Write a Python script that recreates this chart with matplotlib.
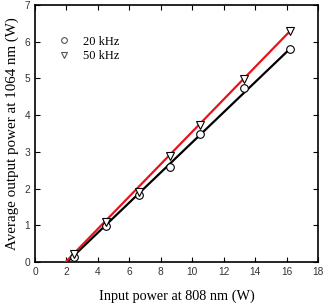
import matplotlib.pyplot as plt

# data
p_in = [2.5, 4.5, 6.6, 8.6, 10.5, 13.3, 16.2]
p20 = [0.13, 0.98, 1.82, 2.60, 3.50, 4.75, 5.80]
p50 = [0.22, 1.10, 1.92, 2.90, 3.72, 4.98, 6.28]
fit_x20 = [2.05, 16.2]
fit_y20 = [0.0, 5.80]
fit_x50 = [1.95, 16.2]
fit_y50 = [0.0, 6.28]

fig = plt.figure(figsize=(3.27, 3.03), dpi=100)
ax = fig.add_axes([35/327, 41/303, 283/327, 257/303])

ax.plot(fit_x20, fit_y20, color="black", lw=1.6, zorder=2)
ax.plot(fit_x50, fit_y50, color="#e8141c", lw=1.6, zorder=3)
ax.plot(p_in, p20, "o", mfc="white", mec="black", mew=0.8, ms=5.5, zorder=4, label="20 kHz")
ax.plot(p_in, p50, "v", mfc="white", mec="black", mew=0.8, ms=5.5, zorder=4, label="50 kHz")

ax.set_xlim(0, 18)
ax.set_ylim(0, 7)
ax.set_xticks(range(0, 19, 2))
ax.set_yticks(range(0, 8))
ax.tick_params(direction="in", top=True, right=True, length=3.5, width=0.8,
               labelsize=7.3, labelcolor="#333333", pad=3.5)
for lab in ax.get_xticklabels() + ax.get_yticklabels():
    lab.set_family("Liberation Sans")
for s in ax.spines.values():
    s.set_linewidth(1.2)

ax.set_xlabel("Input power at 808 nm (W)", family="Liberation Serif", fontsize=10.3, labelpad=9)
ax.set_ylabel("Average output power at 1064 nm (W)", family="Liberation Serif", fontsize=10.8, labelpad=4)

leg = ax.legend(loc="upper left", bbox_to_anchor=(0.04, 0.90), frameon=False,
                prop={"family": "Liberation Serif", "size": 9}, handletextpad=0.5,
                labelspacing=0.2, borderaxespad=0, markerscale=0.75)
for h in leg.legend_handles:
    h.set_markeredgecolor("#555555")

fig.savefig("out.png", dpi=100)
